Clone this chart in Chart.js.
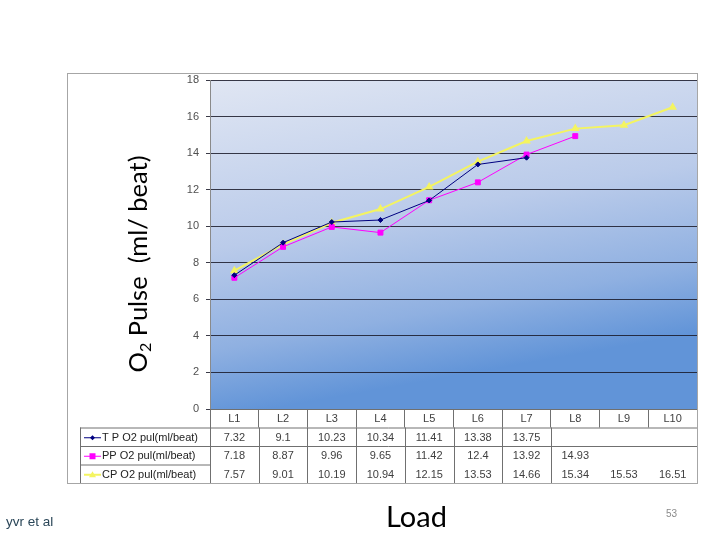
<html>

<head>
    <title>O2 Pulse by Load</title>
    <script src="https://cdn.jsdelivr.net/npm/chart.js"></script>
    <style>
        body { margin: 0; background: #fff; }
        #wrap { position: relative; width: 720px; height: 540px; }
        #o2Chart { position: absolute; left: 0; top: 0; }
        .note { position: absolute; white-space: nowrap; }
    </style>
</head>

<body>
    <div id="wrap">
        <canvas id="o2Chart" width="720" height="540"></canvas>
        <div class="note" style="left:6px; top:514px; font:13.5px 'Liberation Sans'; color:#2a4658;">yvr et al</div>
        <div class="note" style="left:386px; top:498px; font:29px Lato; color:#000;">Load</div>
        <div class="note" style="left:666px; top:508px; font:10px 'Liberation Sans'; color:#8a8a8a;">53</div>
    </div>

    <script type="text/javascript" charset="utf-8">

        var loads = ['L1', 'L2', 'L3', 'L4', 'L5', 'L6', 'L7', 'L8', 'L9', 'L10'];
        var tpValues = [7.32, 9.1, 10.23, 10.34, 11.41, 13.38, 13.75, null, null, null];
        var ppValues = [7.18, 8.87, 9.96, 9.65, 11.42, 12.4, 13.92, 14.93, null, null];
        var cpValues = [7.57, 9.01, 10.19, 10.94, 12.15, 13.53, 14.66, 15.34, 15.53, 16.51];
        var seriesNames = ['T P O2 pul(ml/beat)', 'PP O2 pul(ml/beat)', 'CP O2 pul(ml/beat)'];
        var yMin = 0, yMax = 18, yStep = 2;

        var tableLeft = 80;
        var rowH = 18.5;
        var lineColor = '#707070';
        var tableFont = "11px 'Liberation Sans'";

        // gradient behind the plot
        var plotBackground = {
            id: 'plotBackground',
            beforeDraw: function (chart) {
                const ctx = chart.ctx, a = chart.chartArea;
                const g = ctx.createLinearGradient(a.left, a.top, a.left + a.width * 0.12, a.bottom);
                g.addColorStop(0, '#e0e6f3');
                g.addColorStop(0.5, '#bacbea');
                g.addColorStop(0.8, '#8fb0e1');
                g.addColorStop(1, '#6194d8');
                ctx.save();
                ctx.fillStyle = g;
                ctx.fillRect(a.left, a.top, a.width, a.height);
                ctx.restore();
            }
        };

        function drawMarker(ctx, style, x, y, color) {
            ctx.fillStyle = color;
            ctx.beginPath();
            if (style == 'rectRot') {
                ctx.moveTo(x, y - 2.5); ctx.lineTo(x + 2.5, y); ctx.lineTo(x, y + 2.5); ctx.lineTo(x - 2.5, y);
            } else if (style == 'rect') {
                ctx.rect(x - 3, y - 3, 6, 6);
            } else {
                ctx.moveTo(x, y - 3.5); ctx.lineTo(x + 3.5, y + 2.5); ctx.lineTo(x - 3.5, y + 2.5);
            }
            ctx.closePath();
            ctx.fill();
        }

        // data table under the axis, frame and y title
        var dataTable = {
            id: 'dataTable',
            afterDraw: function (chart) {
                const ctx = chart.ctx, a = chart.chartArea, xs = chart.scales.x;
                const top = a.bottom + xs.height;
                const half = (xs.getPixelForValue(1) - xs.getPixelForValue(0)) / 2;
                const bottom = top + rowH * 3;
                ctx.save();

                ctx.strokeStyle = lineColor;
                ctx.lineWidth = 1;
                ctx.beginPath();
                ctx.moveTo(tableLeft, top + 0.5); ctx.lineTo(a.right, top + 0.5);
                ctx.moveTo(tableLeft, top + rowH + 0.5); ctx.lineTo(a.right, top + rowH + 0.5);
                ctx.moveTo(tableLeft, top + rowH * 2 + 0.5); ctx.lineTo(a.left, top + rowH * 2 + 0.5);
                ctx.moveTo(tableLeft + 0.5, top); ctx.lineTo(tableLeft + 0.5, bottom);
                ctx.moveTo(Math.round(a.left) + 0.5, a.bottom); ctx.lineTo(Math.round(a.left) + 0.5, bottom);
                for (var i = 0; i < loads.length - 1; i++) {
                    if (tpValues[i] == null) continue;
                    const bx = Math.round(xs.getPixelForValue(i) + half) + 0.5;
                    ctx.moveTo(bx, top); ctx.lineTo(bx, bottom);
                }
                ctx.stroke();

                // outer frame
                ctx.strokeStyle = '#a6a6a6';
                ctx.strokeRect(67.5, 73.5, a.right - 67, bottom - 73);

                ctx.font = tableFont;
                ctx.textBaseline = 'middle';
                chart.data.datasets.forEach(function (ds, r) {
                    const cy = top + rowH * r + rowH / 2 + 1;
                    ctx.strokeStyle = ds.borderColor;
                    ctx.lineWidth = ds.borderWidth;
                    ctx.beginPath();
                    ctx.moveTo(84, cy); ctx.lineTo(101, cy);
                    ctx.stroke();
                    drawMarker(ctx, ds.pointStyle, 92.5, cy, ds.borderColor);
                    ctx.fillStyle = '#222';
                    ctx.textAlign = 'left';
                    ctx.fillText(ds.label, 102, cy);
                    ctx.fillStyle = '#404040';
                    ctx.textAlign = 'center';
                    ds.data.forEach(function (v, i) {
                        if (v == null) return;
                        ctx.fillText(String(v), xs.getPixelForValue(i), cy);
                    });
                });

                // y title: O2 Pulse (ml/ beat), rotated
                ctx.translate(147, 264);
                ctx.rotate(-Math.PI / 2);
                ctx.fillStyle = '#000';
                ctx.textBaseline = 'alphabetic';
                ctx.textAlign = 'left';
                const big = '25.5px Lato', small = '16px Lato';
                ctx.font = big;
                const wO = ctx.measureText('O').width;
                const rest = ' Pulse  (ml/ beat)';
                const wRest = ctx.measureText(rest).width;
                ctx.font = small;
                const w2 = ctx.measureText('2').width;
                let x0 = -(wO + w2 + wRest) / 2;
                ctx.font = big;
                ctx.fillText('O', x0, 0);
                ctx.font = small;
                ctx.fillText('2', x0 + wO, 4);
                ctx.font = big;
                ctx.fillText(rest, x0 + wO + w2, 0);

                ctx.restore();
            }
        };

        var el = document.getElementById('o2Chart');
        const chart = new Chart(el, {
            type: 'line',
            data: {
                labels: loads,
                datasets: [
                    {
                        label: seriesNames[0],
                        data: tpValues,
                        borderColor: '#000080',
                        backgroundColor: '#000080',
                        borderWidth: 1,
                        pointStyle: 'rectRot',
                        pointRadius: 2.5
                    },
                    {
                        label: seriesNames[1],
                        data: ppValues,
                        borderColor: '#ff00ff',
                        backgroundColor: '#ff00ff',
                        borderWidth: 1,
                        pointStyle: 'rect',
                        pointRadius: 3.5
                    },
                    {
                        label: seriesNames[2],
                        data: cpValues,
                        borderColor: '#f4f460',
                        backgroundColor: '#f4f460',
                        borderWidth: 2,
                        pointStyle: 'triangle',
                        pointRadius: 3
                    }
                ]
            },
            options: {
                responsive: false,
                animation: false,
                layout: { padding: { left: tableLeft, right: 23, top: 80, bottom: 540 - 409 - rowH } },
                plugins: { legend: { display: false }, tooltip: { enabled: false } },
                scales: {
                    x: {
                        offset: true,
                        grid: { drawOnChartArea: false, tickLength: rowH, color: lineColor, offset: true },
                        border: { color: lineColor },
                        ticks: { padding: -15, color: '#404040', font: { family: 'Liberation Sans', size: 11 } },
                        afterFit: function (s) { s.height = rowH; }
                    },
                    y: {
                        min: yMin,
                        max: yMax,
                        ticks: { stepSize: yStep, padding: 7, color: '#505050', font: { family: 'Liberation Sans', size: 11 } },
                        grid: { color: 'rgba(25,25,40,0.85)', tickLength: 4 },
                        border: { color: '#8a8a8a' },
                        afterFit: function (s) { s.width = 210 - tableLeft; }
                    }
                }
            },
            plugins: [plotBackground, dataTable]
        });

    </script>
</body>

</html>
